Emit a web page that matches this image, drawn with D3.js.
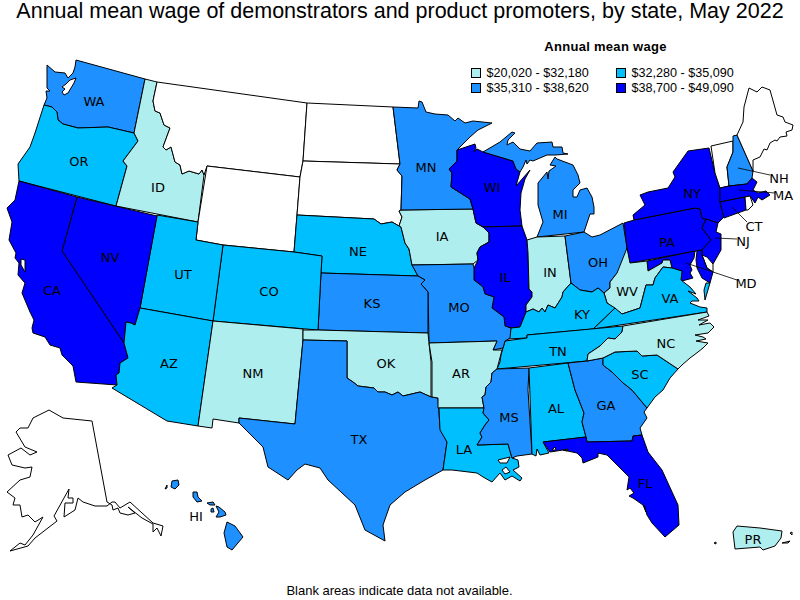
<!DOCTYPE html>
<html>
<head>
<meta charset="utf-8">
<script src="https://cdn.jsdelivr.net/npm/d3@7"></script>
<style>
  html, body { margin: 0; padding: 0; background: #fff; }
  svg { display: block; }
  .state { stroke: #000; stroke-width: 1; fill-rule: evenodd; stroke-linejoin: round; }
  text { fill: #000; }
</style>
</head>
<body>
<svg id="map" width="800" height="600"></svg>
<script>
const title = 'Annual mean wage of demonstrators and product promoters, by state, May 2022';
const legendTitle = 'Annual mean wage';
const footNote = 'Blank areas indicate data not available.';

// wage classes
const wageBins = ['$20,020 - $32,180', '$32,280 - $35,090', '$35,310 - $38,620', '$38,700 - $49,090'];
const binColors = ['#afeeee', '#00bfff', '#1e90ff', '#0000ff'];

const bin0States = ['ID', 'NM', 'OK', 'AR', 'IA', 'IN', 'WV', 'NC', 'PR'];
const bin1States = ['OR', 'UT', 'AZ', 'CO', 'NE', 'LA', 'AL', 'TN', 'KY', 'VA', 'SC'];
const bin2States = ['WA', 'MN', 'KS', 'MO', 'TX', 'MS', 'GA', 'MI', 'OH', 'NH', 'HI'];
const bin3States = ['CA', 'NV', 'WI', 'IL', 'FL', 'NY', 'PA', 'NJ', 'MD', 'MA', 'CT'];

// state outlines (screen units)
const shapes = {
  AK: [[[92,421],[63,418],[49,410],[33,418],[28,428],[20,428],[16,432],[25,447],[37,452],[30,455],[21,448],[8,455],[12,465],[25,468],[32,467],[30,477],[20,480],[7,492],[15,498],[13,505],[20,505],[22,517],[28,515],[35,522],[43,517],[33,535],[25,545],[20,543],[10,551],[28,546],[35,538],[57,521],[54,516],[69,489],[68,498],[73,498],[73,503],[65,503],[64,517],[75,510],[78,498],[83,502],[95,506],[107,506],[112,502],[115,502],[120,508],[130,502],[153,523],[163,526],[161,536],[157,528],[153,532],[153,524],[142,518],[128,507],[135,513],[128,515],[120,513],[118,508],[113,510],[112,505],[107,502]]],
  WA: [[[47,65],[55,72],[65,73],[68,78],[73,73],[75,67],[76,60],[145,79],[134,133],[108,127],[78,128],[63,124],[58,120],[57,112],[52,107],[44,105],[47,98],[46,91],[50,91],[47,88]],
       [[76,78],[74,83],[71,88],[68,93],[64,95],[62,92],[65,89],[62,87],[66,84],[70,80]]],
  OR: [[[44,105],[52,107],[57,112],[58,120],[63,124],[78,128],[108,127],[134,133],[138,141],[123,161],[127,166],[116,206],[19,181],[18,164],[30,147],[35,133]]],
  ID: [[[145,79],[157,82],[153,101],[155,111],[160,113],[164,125],[170,128],[163,147],[166,150],[171,147],[175,162],[180,165],[182,174],[189,171],[199,174],[202,170],[204,175],[198,222],[116,206],[127,166],[123,161],[138,141],[134,133]]],
  MT: [[[157,82],[307,103],[303,161],[300,177],[207,166],[204,175],[202,170],[199,174],[189,171],[182,174],[180,165],[175,162],[171,147],[166,150],[163,147],[170,128],[164,125],[160,113],[155,111],[153,101]]],
  WY: [[[207,166],[300,177],[297,215],[294,252],[223,245],[196,240],[198,222]]],
  ND: [[[307,103],[393,107],[400,164],[303,161]]],
  SD: [[[303,161],[400,164],[397,170],[402,176],[401,210],[399,211],[402,217],[399,226],[392,222],[381,224],[374,219],[297,215],[300,177]]],
  NE: [[[297,215],[374,219],[381,224],[392,222],[399,226],[401,227],[405,243],[409,249],[412,265],[418,276],[321,273],[322,256],[294,252]]],
  IA: [[[399,211],[401,210],[473,209],[476,223],[483,227],[489,233],[489,242],[480,247],[477,253],[478,260],[473,264],[412,265],[409,249],[405,243],[401,227],[399,226],[402,217]]],
  MN: [[[393,107],[418,108],[419,101],[422,102],[426,112],[435,114],[448,115],[455,121],[458,118],[465,123],[473,121],[492,123],[478,130],[470,137],[457,150],[457,161],[449,169],[452,173],[451,187],[470,199],[473,209],[401,210],[402,176],[397,170],[400,164]]],
  WI: [[[457,150],[475,144],[476,148],[474,152],[477,149],[483,152],[513,161],[516,169],[520,172],[516,186],[530,170],[525,179],[521,193],[520,210],[522,226],[483,227],[476,223],[473,209],[470,199],[451,187],[452,173],[449,169],[457,161]]],
  MI: [[[483,152],[500,142],[512,132],[515,133],[508,140],[507,145],[513,142],[520,149],[530,151],[537,143],[552,142],[553,147],[562,147],[563,153],[568,154],[555,155],[547,155],[533,161],[530,160],[527,164],[526,160],[523,167],[520,172],[516,169],[513,161]],
       [[555,157],[557,159],[573,165],[578,175],[580,183],[573,190],[573,197],[577,197],[580,190],[587,188],[592,197],[594,207],[594,214],[590,214],[584,232],[537,237],[543,222],[538,205],[538,183],[547,172],[548,179],[549,171],[556,166],[550,165]]],
  IL: [[[483,227],[522,226],[527,240],[528,253],[529,289],[532,292],[532,297],[526,305],[526,312],[520,327],[511,328],[505,326],[504,317],[492,308],[494,297],[485,294],[483,287],[474,280],[474,268],[478,260],[477,253],[480,247],[489,242],[489,233]]],
  IN: [[[527,240],[537,237],[565,236],[571,283],[563,292],[562,297],[555,308],[548,305],[545,312],[542,308],[539,312],[533,309],[526,312],[526,305],[532,297],[532,292],[529,289],[528,253]]],
  OH: [[[565,236],[584,232],[592,237],[600,235],[623,223],[627,248],[630,263],[617,273],[610,282],[610,288],[604,293],[598,288],[592,292],[580,290],[571,283]]],
  PA: [[[624,223],[634,220],[695,208],[700,209],[702,218],[706,219],[702,228],[711,240],[702,250],[630,263],[627,248]]],
  NY: [[[709,148],[688,151],[673,172],[675,177],[668,188],[648,192],[640,195],[645,205],[633,215],[634,220],[695,208],[700,209],[702,218],[718,223],[724,217],[720,202],[720,188],[715,173]]],
  NJ: [[[706,219],[718,223],[716,232],[721,234],[721,250],[713,264],[702,255],[702,250],[711,240],[702,228]]],
  DE: [[[702,255],[707,257],[713,264],[713,272],[707,268]]],
  MD: [[[647,261],[695,251],[694,258],[690,265],[692,270],[690,273],[693,278],[682,281],[681,280],[682,271],[672,268],[670,260],[663,260],[662,263],[648,271]],
       [[697,251],[702,250],[702,255],[707,268],[713,272],[710,283],[702,278],[697,268],[696,260]]],
  WV: [[[627,248],[630,263],[647,261],[648,271],[662,263],[663,260],[670,260],[672,268],[663,267],[655,278],[653,285],[646,285],[640,308],[622,314],[607,303],[604,293],[610,288],[610,282],[617,273]]],
  VA: [[[593,329],[615,308],[622,314],[640,308],[646,285],[653,285],[655,278],[663,267],[672,268],[682,271],[681,280],[690,287],[696,294],[688,291],[697,298],[699,301],[692,301],[690,303],[700,307],[707,308],[707,312]],
       [[710,283],[705,300],[704,290],[706,283]]],
  KY: [[[511,328],[520,327],[526,312],[533,309],[539,312],[542,308],[545,312],[548,305],[555,308],[562,297],[563,292],[571,283],[580,290],[592,292],[598,288],[604,293],[607,303],[615,308],[593,329],[527,335],[527,338],[508,339]]],
  TN: [[[505,341],[527,338],[527,335],[623,326],[622,332],[615,339],[608,338],[600,346],[588,354],[587,361],[497,369],[500,362],[501,355],[503,348]]],
  MO: [[[412,265],[473,264],[474,268],[474,280],[483,287],[485,294],[494,297],[492,308],[504,317],[505,326],[511,328],[510,338],[505,341],[503,348],[493,350],[497,341],[429,343],[428,292],[421,284],[425,280],[418,276]]],
  KS: [[[321,273],[418,276],[425,280],[421,284],[428,292],[428,333],[318,330]]],
  CO: [[[223,245],[294,252],[322,256],[321,273],[318,330],[213,321]]],
  UT: [[[157,215],[198,222],[196,240],[223,245],[213,321],[140,308]]],
  NV: [[[77,197],[157,216],[140,308],[135,325],[131,323],[126,322],[124,343],[62,251]]],
  CA: [[[19,181],[77,197],[62,251],[124,343],[128,358],[120,363],[119,373],[116,375],[117,385],[76,382],[73,366],[62,355],[60,348],[50,345],[45,337],[33,333],[32,328],[34,320],[30,312],[22,293],[25,283],[18,275],[19,263],[15,258],[16,253],[9,240],[12,222],[7,208],[15,200]],
       [[21,259],[25,260],[25,272],[21,265]]],
  AZ: [[[140,308],[213,321],[198,426],[167,421],[112,388],[117,385],[116,375],[119,373],[120,363],[128,358],[124,343],[126,322],[131,323],[135,325]]],
  NM: [[[213,321],[303,329],[303,340],[295,424],[239,418],[239,423],[213,419],[212,428],[198,426]]],
  OK: [[[303,330],[318,330],[428,333],[429,343],[431,362],[431,397],[420,392],[403,396],[398,392],[392,395],[385,392],[378,392],[374,388],[358,386],[353,382],[347,378],[347,341],[303,340]]],
  TX: [[[303,340],[347,341],[347,378],[353,382],[358,386],[374,388],[378,392],[385,392],[392,395],[398,392],[403,396],[420,392],[431,397],[438,398],[440,428],[447,442],[443,470],[425,480],[405,492],[390,505],[383,525],[385,541],[365,530],[355,505],[328,480],[320,468],[305,464],[297,470],[288,480],[268,467],[263,447],[239,423],[239,418],[295,424]]],
  AR: [[[429,343],[497,341],[493,350],[502,350],[497,369],[492,373],[491,382],[486,387],[485,395],[482,397],[484,408],[438,408],[438,398],[432,397],[432,362]]],
  LA: [[[439,408],[484,408],[483,413],[489,420],[485,425],[480,433],[482,437],[477,445],[508,444],[512,458],[518,460],[519,467],[513,470],[522,478],[520,481],[512,476],[505,480],[500,473],[492,482],[483,477],[477,473],[452,470],[443,470],[447,442],[440,430]],
       [[498,460],[510,457],[507,463],[500,463]],
       [[502,470],[506,467],[510,472],[505,474]]],
  MS: [[[497,369],[529,368],[528,390],[532,454],[517,456],[512,458],[508,444],[477,445],[482,437],[480,433],[485,425],[489,420],[483,413],[484,408],[482,397],[485,395],[486,387],[491,382],[492,373]]],
  AL: [[[529,368],[568,363],[575,390],[584,413],[582,422],[586,437],[543,442],[549,453],[540,455],[537,449],[536,456],[532,454]]],
  GA: [[[568,363],[587,361],[603,358],[603,365],[612,372],[622,382],[632,390],[647,408],[644,412],[647,418],[640,428],[642,435],[633,436],[632,441],[587,442],[586,437],[582,422],[584,413],[575,390]]],
  SC: [[[603,358],[615,352],[637,351],[642,356],[657,355],[678,369],[670,378],[663,390],[655,397],[647,408],[632,390],[622,382],[612,372],[603,365]]],
  NC: [[[623,326],[707,312],[709,316],[698,320],[708,320],[699,325],[710,323],[714,327],[708,333],[695,335],[703,337],[706,339],[696,341],[708,343],[703,348],[698,352],[690,358],[682,365],[678,369],[657,355],[642,356],[637,351],[615,352],[603,358],[587,361],[588,354],[600,346],[608,338],[615,339],[622,332]]],
  FL: [[[543,442],[586,437],[587,442],[632,441],[633,436],[642,435],[648,452],[662,470],[678,505],[679,525],[665,537],[652,523],[647,515],[644,505],[646,512],[643,505],[633,498],[629,496],[634,493],[630,488],[627,490],[629,477],[620,468],[607,455],[598,453],[598,457],[583,463],[582,458],[577,453],[563,450],[550,452]],
       [[552,450],[555,447],[556,450]],
       [[563,450],[568,449],[567,451]]],
  VT: [[[711,146],[733,141],[733,152],[727,167],[729,186],[720,188],[715,173]]],
  NH: [[[733,136],[737,135],[753,171],[752,178],[747,184],[729,186],[727,167],[733,152]]],
  ME: [[[737,135],[743,122],[744,107],[749,88],[757,92],[762,87],[770,90],[777,115],[783,117],[785,122],[793,125],[792,130],[786,132],[787,136],[780,137],[777,141],[775,140],[770,143],[767,150],[764,149],[760,157],[753,160],[753,171]]],
  MA: [[[720,188],[729,186],[747,184],[752,178],[757,182],[753,190],[758,193],[766,191],[770,195],[762,200],[758,197],[755,203],[750,196],[745,197],[720,202]]],
  CT: [[[720,202],[745,197],[746,210],[724,218]]],
  RI: [[[745,197],[750,196],[753,205],[748,210],[746,210]]],
  HI: [[[172,481],[178,480],[179,485],[175,489],[171,487]],
       [[165,489],[167,485],[167,488]],
       [[193,492],[197,492],[198,497],[202,501],[197,502],[193,497]],
       [[207,503],[213,502],[215,505],[210,505]],
       [[211,509],[213,508],[214,512],[211,512]],
       [[216,506],[219,507],[225,512],[226,515],[220,517],[216,517],[219,512]],
       [[227,522],[235,526],[243,537],[232,550],[227,547],[224,533]]],
  PR: [[[737,526],[760,528],[782,531],[781,538],[775,546],[763,550],[760,547],[735,549],[733,532]],
       [[782,543],[790,541],[788,543]],
       [[790,533],[792,532],[792,535]],
       [[714,543],[716,542],[716,544]]]
};

// label anchors
const labelNames = ['WA','OR','ID','CA','NV','UT','AZ','CO','NM','NE','KS','OK','TX','MN','IA','MO','AR','LA','WI','IL','MI','IN','OH','KY','TN','MS','AL','GA','FL','SC','NC','VA','WV','PA','NY','HI','PR','NH','MA','CT','NJ','MD'];
const labelX = [94,79,158,52,110,183,169,269,253,358,372,386,359,426,442,459,461,464,492,505,560,550,598,582,558,509,556,606,645,640,666,670,627,667,692,196,753,779,783,754,743,746];
const labelY = [101,161,187,290,257,274,363,291,373,251,303,363,439,167,236,307,373,449,187,277,214,272,262,314,351,417,408,405,483,374,343,298,291,242,193,516,539,178,195,226,241,283];

// leader lines for the small states
const leaders = [
  {from: [738,168], to: [770,175]},
  {from: [739,190], to: [775,193]},
  {from: [732,207], to: [747,222]},
  {from: [715,238], to: [737,239]},
  {from: [686,263], to: [737,280]}
];

const svg = d3.select('#map');

const binOf = {};
[bin0States, bin1States, bin2States, bin3States].forEach((list, i) => {
  list.forEach(s => { binOf[s] = wageBins[i]; });
});
const color = d3.scaleOrdinal().domain(wageBins).range(binColors);

const path = d3.geoPath(d3.geoIdentity());
const features = Object.keys(shapes).map(id => ({
  type: 'Feature',
  id,
  geometry: {type: 'Polygon', coordinates: shapes[id].map(r => r.concat([r[0]]))}
}));

svg.append('g').selectAll('path').data(features).enter().append('path')
  .attr('class', 'state')
  .attr('d', path)
  .attr('fill', d => binOf[d.id] ? color(binOf[d.id]) : '#fff');

//leaders
svg.append('g').selectAll('line').data(leaders).enter().append('line')
  .attr('x1', d => d.from[0]).attr('y1', d => d.from[1])
  .attr('x2', d => d.to[0]).attr('y2', d => d.to[1])
  .attr('stroke', '#000').attr('stroke-width', 0.8);

//state labels
svg.append('g').selectAll('text').data(labelNames).enter().append('text')
  .attr('x', (d, i) => labelX[i])
  .attr('y', (d, i) => labelY[i])
  .attr('dy', '0.36em')
  .attr('text-anchor', 'middle')
  .style('font-family', '"DejaVu Sans", sans-serif')
  .style('font-size', '13px')
  .text(d => d);

//title + notes
svg.append('text').attr('x', 400).attr('y', 18)
  .attr('text-anchor', 'middle')
  .style('font-family', '"Liberation Sans", Arial, sans-serif')
  .style('font-size', '21.5px')
  .text(title);

svg.append('text').attr('x', 605.5).attr('y', 51)
  .attr('text-anchor', 'middle')
  .style('font-family', '"Liberation Sans", Arial, sans-serif')
  .style('font-size', '13px')
  .style('font-weight', 'bold')
  .style('letter-spacing', '0.3px')
  .text(legendTitle);

svg.append('text').attr('x', 399.5).attr('y', 595)
  .attr('text-anchor', 'middle')
  .style('font-family', '"Liberation Sans", Arial, sans-serif')
  .style('font-size', '13px')
  .text(footNote);

//legend
const legendCol = d3.scaleOrdinal().domain([0, 1]).range([471.5, 616.5]);
const legendRow = d3.scaleOrdinal().domain([0, 1]).range([68.5, 83.5]);
const legendItem = svg.append('g').selectAll('g').data(wageBins).enter().append('g')
  .attr('transform', (d, i) => `translate(${legendCol(i % 2)},${legendRow(i >> 1)})`);
legendItem.append('rect')
  .attr('width', 9).attr('height', 9)
  .attr('fill', d => color(d))
  .attr('stroke', '#000');
legendItem.append('text')
  .attr('x', 15).attr('y', 8.5)
  .style('font-family', '"Liberation Sans", Arial, sans-serif')
  .style('font-size', '12.6px')
  .text(d => d);
</script>
</body>
</html>
